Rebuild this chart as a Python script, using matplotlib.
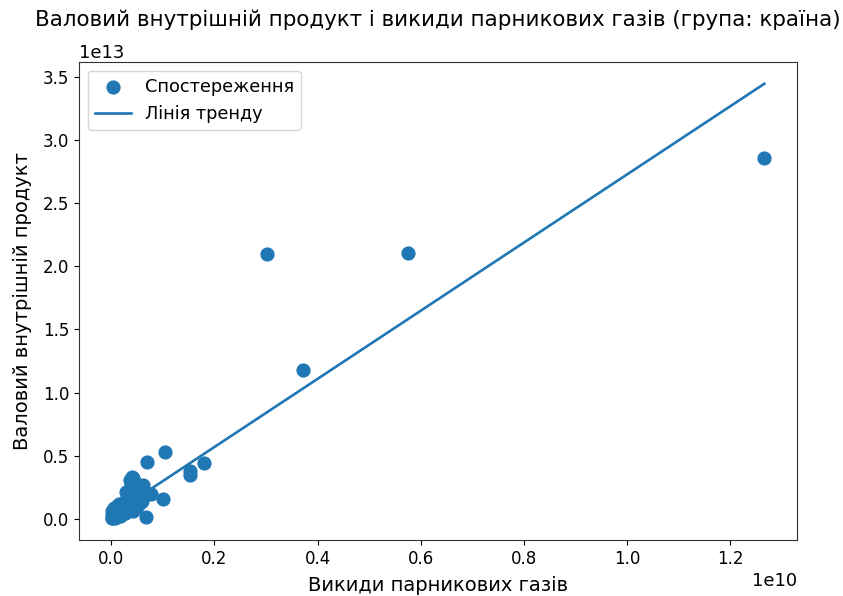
import matplotlib
matplotlib.use("Agg")
import matplotlib.pyplot as plt
import numpy as np

# emissions (in units of 1e9) and GDP (units of 1e13)
emissions = [12.66, 5.75, 3.02, 3.72, 1.045, 0.697, 1.80, 1.53, 1.53, 1.006, 0.77, 0.68, 0.62,
             0.37, 0.40, 0.42, 0.38, 0.45, 0.50, 0.28, 0.30, 0.55, 0.60, 0.35, 0.48,
             0.25, 0.20, 0.15, 0.10, 0.05, 0.02, 0.01, 0.03, 0.08, 0.12, 0.18, 0.22,
             0.06, 0.04, 0.09, 0.14, 0.16, 0.26, 0.32, 0.11, 0.07, 0.02, 0.01, 0.05,
             0.13, 0.19, 0.24, 0.29, 0.21, 0.17, 0.27, 0.33, 0.43, 0.52, 0.58]
gdp = [2.86, 2.106, 2.098, 1.18, 0.53, 0.451, 0.443, 0.38, 0.35, 0.158, 0.20, 0.016, 0.27,
       0.31, 0.33, 0.32, 0.28, 0.30, 0.25, 0.21, 0.12, 0.17, 0.14, 0.18, 0.09,
       0.08, 0.06, 0.05, 0.04, 0.02, 0.01, 0.005, 0.03, 0.07, 0.10, 0.02, 0.11,
       0.06, 0.04, 0.08, 0.03, 0.12, 0.05, 0.08, 0.02, 0.01, 0.06, 0.03, 0.09,
       0.07, 0.04, 0.13, 0.10, 0.09, 0.02, 0.05, 0.14, 0.06, 0.11, 0.13]

# trend line (GDP = intercept + slope * emissions)
trend_slope = 2698.0
trend_intercept = 0.029e13

x = np.array(emissions) * 1e9
y = np.array(gdp) * 1e13

fig = plt.figure(figsize=(8.43, 5.96), dpi=100)
ax = fig.add_axes([79/843, 1-540/596, (797-79)/843, (540-62)/596])

ax.scatter(x, y, s=85, color="#1f77b4", label="Спостереження", zorder=2)
xs = np.array([x.min(), x.max()])
ax.plot(xs, trend_intercept + trend_slope*xs, color="#1f77b4", lw=1.9, label="Лінія тренду", zorder=3)

ax.set_title("Валовий внутрішній продукт і викиди парникових газів (група: країна)", fontsize=15.4, pad=26)
ax.set_xlabel("Викиди парникових газів", fontsize=14, labelpad=6)
ax.set_ylabel("Валовий внутрішній продукт", fontsize=14, labelpad=8)
ax.tick_params(labelsize=12)
ax.xaxis.get_offset_text().set_fontsize(13)
ax.yaxis.get_offset_text().set_fontsize(13)
for s in ax.spines.values():
    s.set_color("#333333")
ax.legend(loc="upper left", fontsize=12.8)
fig.savefig("out.png", dpi=100)
